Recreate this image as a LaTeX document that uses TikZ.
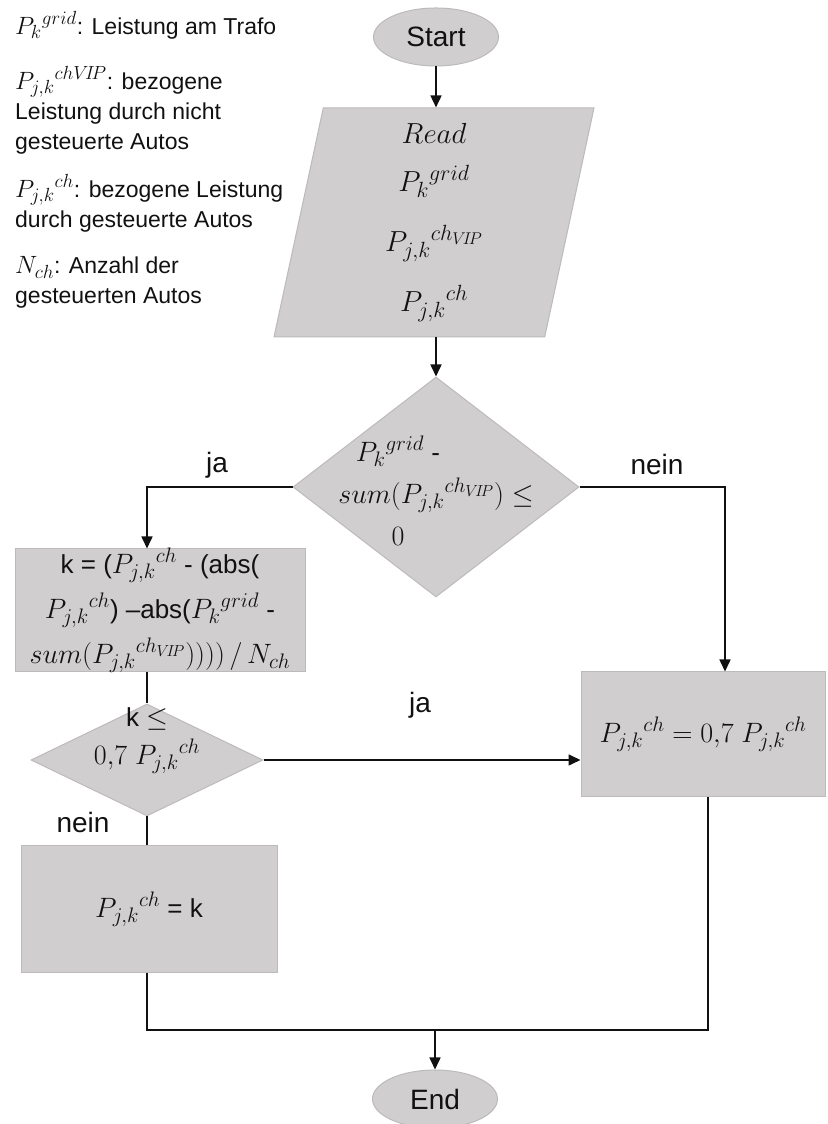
\documentclass[tikz,border=0pt]{standalone}
\usepackage{fix-cm}
\usepackage{fontspec}
\setmainfont{Liberation Sans}
\usepackage{tikz}
\usetikzlibrary{positioning,calc,shapes.geometric,arrows.meta}
\definecolor{boxfill}{HTML}{D0CECE}
\definecolor{boxline}{HTML}{BCBABA}
\definecolor{ink}{HTML}{111111}
% math a little larger than the sans text, as in the original
\DeclareMathSizes{23}{25}{19}{15}
\DeclareMathSizes{26}{28}{21}{16}
\DeclareMathSizes{28}{29}{22}{17}
\newcommand\Pgrid{{P_{k}}^{grid}}
\newcommand\Pvip{{P_{j,k}}^{ch_{V\!I\!P}}}
\newcommand\Pviplist{{P_{j,k}}^{chV\!I\!P}}
\newcommand\Pch{{P_{j,k}}^{ch}}
\tikzset{
  terminal/.style  = {ellipse, draw=boxline, fill=boxfill, line width=1pt, inner sep=0pt,
                      minimum width=125pt, minimum height=58pt, font=\fontsize{28}{32}\selectfont\color{ink}},
  io/.style        = {trapezium, trapezium left angle=76, trapezium right angle=104,
                      trapezium stretches body, draw=boxline, fill=boxfill, line width=1pt, inner sep=0pt,
                      minimum width=320pt, minimum height=229pt, align=center,
                      font=\fontsize{28}{60}\selectfont\color{ink}},
  decision/.style  = {diamond, draw=boxline, fill=boxfill, line width=1pt, inner sep=0pt},
  proc/.style      = {rectangle, draw=boxline, fill=boxfill, line width=1pt, inner sep=0pt},
  boxtxt/.style    = {align=center, inner sep=0pt, font=\fontsize{26}{45}\selectfont\color{ink}},
  legend/.style    = {anchor=west, align=left, inner sep=0pt, font=\fontsize{23}{30}\selectfont\color{ink}},
  branch/.style    = {inner sep=0pt, font=\fontsize{28}{32}\selectfont\color{ink}},
  conn/.style      = {draw=ink, line width=1.6pt},
  flow/.style      = {conn, -{Triangle[length=12pt,width=11pt]}},
}
\begin{document}
\begin{tikzpicture}[x=1pt,y=1pt]
\path[use as bounding box] (0,0) rectangle (827,1124);

% ---- legend -------------------------------------------------------------
\node[legend] (legk)   at (15,1099)  {$\Pgrid$: Leistung am Trafo};
\node[legend] (legvip) at (15,1014)  {$\Pviplist$: bezogene\\Leistung durch nicht\\gesteuerte Autos};
\node[legend] (legch)  at (15,921)   {$\Pch$: bezogene Leistung\\durch gesteuerte Autos};
\node[legend] (legn)   at (15,841.5) {$N_{ch}$: Anzahl der\\gesteuerten Autos};

% ---- main column --------------------------------------------------------
\node[terminal] (start) at (436,1087) {Start};
\node[io] (read) at (434,901.5) {$Read$\\[-12pt] $\Pgrid$\\ $\Pvip$\\ $\Pch$};
\node[decision, minimum width=286pt, minimum height=220pt] (cond) at (436,637) {};
% short lines sit left of centre in the original
\node[boxtxt, font=\fontsize{26}{42}\selectfont\color{ink}] (condtxt) at ([yshift=-4pt]cond.center)
  {$\Pgrid$ -\hspace*{76pt}\\ $sum(\Pvip) \leq$\\ $0$\hspace*{76pt}};

% ---- left branch --------------------------------------------------------
\node[proc, minimum width=290pt, minimum height=123pt] (calc) at (160,513.5) {};
\node[boxtxt] (calctxt) at (calc.center)
  {k = ($\Pch$ - (abs(\\ $\Pch$) \textendash abs($\Pgrid$ -\\ $sum(\Pvip))))\,/\,N_{ch}$};
\node[decision, minimum width=232pt, minimum height=112pt] (check) at (147,364) {};
\node[boxtxt, font=\fontsize{26}{38}\selectfont\color{ink}] (checktxt) at ([yshift=19pt]check.center)
  {k $\leq$\\ $0{,}7\;\Pch$};
\node[proc, minimum width=256pt, minimum height=127pt] (keep) at (149,214.5) {};
\node[boxtxt] (keeptxt) at (keep.center) {$\Pch$ = k};

% ---- right branch -------------------------------------------------------
\node[proc, minimum width=244pt, minimum height=125pt] (set) at (703,389.5) {};
\node[boxtxt] (settxt) at (set.center) {$\Pch = 0{,}7\;\Pch$};

\node[terminal] (end) at (435,25) {End};
\coordinate (join) at (435,94);

% ---- connectors ---------------------------------------------------------
\draw[flow] (start) -- (start |- read.north);
\draw[flow] (cond.north |- read.south) -- (cond.north);
\draw[flow] (cond.west) -| ([xshift=-13pt]calc.north);
\draw[flow] (cond.east) -| ([xshift=22pt]set.north);
\draw[conn] ([xshift=-13pt]calc.south) -- (check.north);
\draw[flow] (check.east) -- (check.east -| set.west);
\draw[conn] (check.south) -- (check.south |- keep.north);
\draw[conn] (check.south |- keep.south) |- (join) -| ([xshift=5pt]set.south);
\draw[flow] (join) -- (end);

% ---- branch labels ------------------------------------------------------
\node[branch] (ja1)   at (217,659) {ja};
\node[branch] (nein1) at (657,659) {nein};
\node[branch] (ja2)   at (420,419) {ja};
\node[branch] (nein2) at (83,302)  {nein};

\end{tikzpicture}
\end{document}
